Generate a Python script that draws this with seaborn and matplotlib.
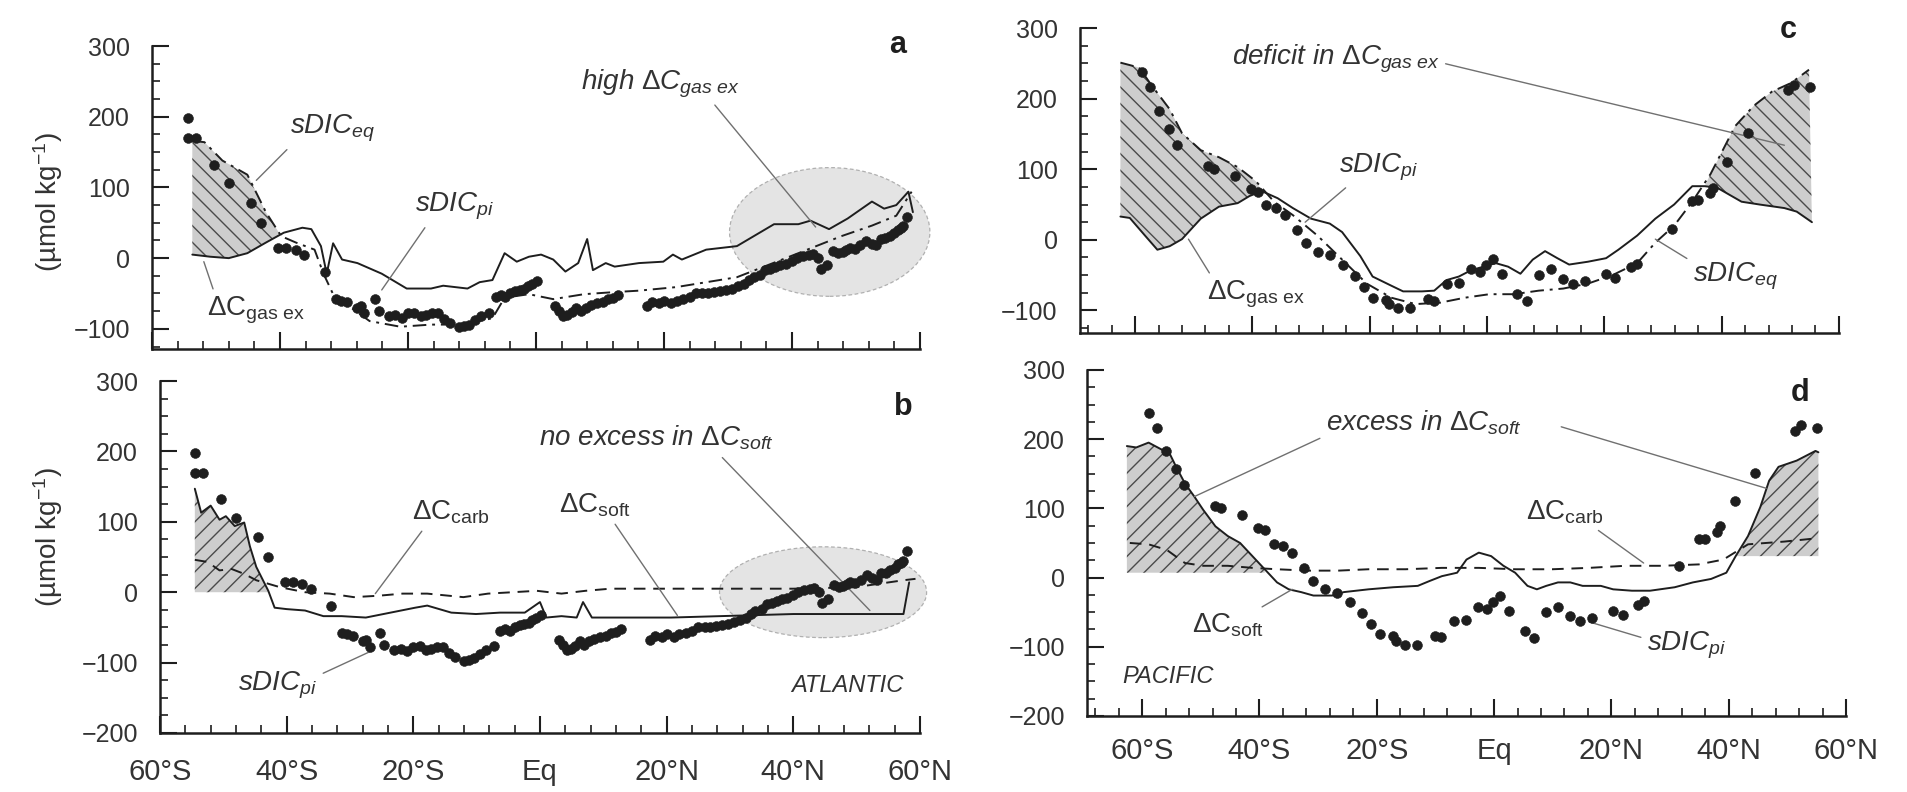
import numpy as np
import pandas as pd
import seaborn as sns
import matplotlib.pyplot as plt
from matplotlib.patches import Ellipse
from matplotlib.ticker import MultipleLocator, FixedLocator

# ---------------- Atlantic (panels a, b) ----------------
atl_dot_lat = [-54.4, -54.4, -53.2, -50.3, -48.0, -44.5, -43.0, -40.3, -39.0, -37.5,
               -36.2, -33.0, -31.2, -30.5, -29.6, -28.0, -27.4, -26.8, -25.2, -24.6,
               -23.0, -22.0, -21.0, -20.0, -19.0, -18.0, -17.2, -16.2, -15.3, -14.3,
               -13.4, -12.0, -11.2, -10.4, -9.5, -8.6, -7.3, -6.3, -5.5, -4.8,
               -4.0, -3.2, -2.5, -1.8, -1.2, -0.6, 0.2, 3.0, 3.6, 4.2,
               4.9, 5.6, 6.3, 7.0, 7.8, 8.6, 9.5, 10.4, 11.2, 12.0,
               12.8, 17.3, 18.2, 19.2, 20.0, 21.1, 22.0, 23.0, 24.0, 25.0,
               26.0, 26.9, 27.8, 28.8, 29.7, 30.7, 31.6, 32.5, 33.3, 34.0,
               35.0, 35.8, 36.6, 37.4, 38.2, 39.0, 40.0, 40.8, 41.7, 42.6,
               43.3, 44.0, 44.6, 45.5, 46.4, 47.2, 47.9, 48.5, 49.0, 49.8,
               50.7, 51.6, 52.5, 53.2, 53.9, 54.6, 55.3, 56.0, 56.5, 57.0,
               57.4, 58.0]
atl_sdic_pi = [198, 170, 170, 132, 106, 78, 50, 15, 15, 12,
               5, -20, -58, -60, -62, -70, -68, -78, -58, -75,
               -82, -80, -84, -78, -77, -82, -80, -78, -78, -86,
               -92, -98, -96, -94, -88, -82, -77, -55, -52, -55,
               -50, -47, -45, -44, -40, -36, -32, -68, -75, -82,
               -80, -76, -70, -75, -70, -66, -64, -62, -58, -56,
               -52, -68, -62, -64, -60, -63, -60, -58, -55, -50,
               -50, -49, -48, -47, -45, -43, -40, -36, -31, -27,
               -24, -17, -15, -12, -10, -8, -4, 0, 3, 4,
               6, 0, -16, -10, 10, 7, 9, 12, 15, 13,
               18, 24, 20, 18, 27, 28, 32, 35, 40, 42,
               45, 58]

atl_gasex_lat = [-53.7, -50.9, -48.0, -45.1, -42.2, -39.4, -36.5, -35.1, -33.6, -32.7,
                 -31.7, -30.3, -27.9, -24.1, -20.2, -16.4, -14.5, -10.7, -8.8, -6.8,
                 -4.9, -3.0, -1.1, 0.8, 2.7, 4.6, 6.6, 8.0, 8.9, 10.9,
                 12.3, 16.1, 19.9, 21.4, 22.8, 26.6, 31.4, 37.2, 41.0, 42.9,
                 45.8, 48.7, 52.5, 54.4, 56.3, 58.2, 58.9]
atl_gasex = [5, 2, 0, 7, 22, 36, 43, 41, 17, -22,
             21, -2, -7, -22, -43, -43, -39, -43, -34, -31,
             7, -5, 2, 5, -2, -19, -7, 27, -17, -7,
             -12, -7, -5, 5, -2, 12, 17, 48, 48, 53,
             41, 56, 80, 70, 75, 94, 65]

atl_eq_lat = [-53.7, -51.8, -49.0, -45.1, -42.2, -39.8, -37.5, -34.6, -33.2, -31.7,
              -28.9, -26.0, -21.2, -16.4, -11.6, -6.8, -4.9, -1.1, 2.7, 7.5,
              12.3, 16.1, 21.9, 31.4, 41.0, 47.7, 52.5, 56.3, 58.7]
atl_sdic_eq = [166, 164, 138, 118, 65, 31, 22, 12, -22, -51,
               -70, -89, -97, -94, -94, -85, -56, -51, -58, -51,
               -48, -46, -41, -27, 7, 31, 46, 60, 94]

atl_soft_lat = [-54.5, -53.5, -52.0, -50.6, -49.6, -48.2, -46.7, -45.8, -44.8, -42.9,
                -41.9, -40.0, -37.1, -34.2, -31.3, -27.5, -23.6, -19.7, -17.8, -15.9,
                -14.0, -10.1, -6.3, -2.4, 0.0, 1.0, 3.4, 5.8, 6.8, 8.2,
                20.7, 40.0, 57.4, 58.3]
atl_soft = [147, 113, 123, 103, 108, 94, 99, 65, 36, 2,
            -22, -24, -26, -34, -34, -36, -29, -22, -19, -24,
            -29, -31, -29, -29, -14, -36, -34, -36, -14, -36,
            -36, -31, -31, 14]

atl_carb_lat = [-54.5, -52.5, -50.6, -48.7, -46.7, -44.8, -42.9, -41.0, -37.1, -33.2,
                -29.4, -25.5, -21.7, -17.8, -12.1, -8.2, -4.3, -0.5, 3.4, 7.2,
                11.1, 20.7, 30.4, 40.0, 49.7, 57.4, 59.3]
atl_carb = [46, 43, 31, 33, 26, 17, 12, 7, 0, -2,
            -7, -5, -2, -2, -7, -2, 0, 2, -2, 2,
            5, 5, 5, 5, 7, 17, 19]

# ---------------- Pacific (panels c, d) ----------------
pac_dot_lat = [-58.9, -57.4, -55.9, -54.3, -52.8, -47.6, -46.5, -42.9, -40.2, -39.1,
               -37.6, -36.0, -34.5, -32.4, -30.9, -28.8, -26.7, -24.6, -22.5, -20.9,
               -19.4, -17.3, -16.7, -15.2, -13.1, -10.0, -9.0, -6.9, -4.8, -2.7,
               -1.2, -0.1, 1.0, 2.6, 5.2, 6.8, 8.9, 10.9, 13.0, 14.6,
               16.7, 20.3, 21.9, 24.5, 25.5, 31.5, 35.0, 36.0, 38.0, 38.6,
               41.0, 44.5, 51.3, 52.4, 55.0]
pac_sdic_pi = [238, 216, 183, 157, 134, 104, 100, 91, 72, 68,
               49, 45, 35, 14, -5, -17, -22, -35, -51, -67,
               -82, -85, -91, -97, -97, -84, -86, -63, -61, -42,
               -45, -35, -27, -49, -77, -87, -50, -42, -56, -63,
               -58, -48, -54, -39, -34, 16, 55, 56, 66, 74,
               110, 151, 212, 220, 216]

pac_gasex_lat = [-62.5, -60.9, -58.3, -56.2, -54.1, -52.0, -48.8, -45.7, -42.5, -40.5,
                 -38.4, -35.7, -33.1, -30.0, -26.8, -24.7, -21.6, -19.5, -16.3, -14.3,
                 -11.1, -9.0, -6.9, -4.8, -2.7, -0.6, 1.5, 3.6, 5.7, 7.8,
                 9.9, 12.0, 14.0, 17.2, 20.3, 22.4, 25.6, 28.7, 31.9, 35.0,
                 37.1, 39.2, 41.3, 43.4, 46.5, 50.7, 52.8, 55.4]
pac_gasex = [33, 31, 6, -14, -9, 1, 30, 47, 52, 62,
             69, 59, 45, 30, 23, 11, -23, -52, -65, -73,
             -73, -72, -57, -52, -43, -38, -33, -38, -48, -28,
             -16, -26, -35, -31, -26, -14, 6, 30, 50, 76,
             76, 74, 64, 54, 50, 45, 40, 25]

pac_eq_lat = [-62.5, -59.3, -57.2, -54.1, -52.0, -48.8, -45.7, -42.5, -39.4, -36.3,
              -33.1, -28.9, -24.7, -20.5, -16.3, -12.2, -8.0, -3.8, 0.4, 4.6,
              8.8, 13.0, 17.2, 21.4, 25.6, 28.7, 31.9, 35.0, 38.1, 40.2,
              42.3, 45.5, 48.6, 51.8, 54.9]
pac_sdic_eq = [251, 244, 219, 185, 151, 127, 117, 103, 83, 54,
               35, 6, -28, -62, -82, -91, -89, -82, -77, -77,
               -72, -69, -62, -50, -33, -4, 20, 54, 93, 127,
               161, 190, 210, 222, 241]

pac_soft_lat = [-62.6, -61.0, -58.9, -56.9, -55.3, -54.2, -52.7, -51.1, -49.6, -47.5,
                -45.4, -43.3, -41.2, -39.1, -37.0, -35.0, -32.9, -30.8, -27.6, -25.6,
                -21.4, -17.2, -13.0, -11.0, -8.9, -6.3, -4.7, -2.6, -0.5, 1.6,
                3.6, 5.7, 7.3, 8.9, 10.9, 13.0, 15.1, 18.2, 20.3, 23.5,
                26.6, 30.8, 33.9, 37.0, 39.6, 41.2, 43.3, 45.4, 46.9, 48.5,
                51.6, 54.8, 55.3]
pac_soft = [190, 188, 195, 186, 179, 160, 136, 117, 98, 74,
            60, 50, 31, 12, -7, -17, -21, -26, -26, -21,
            -17, -14, -12, -5, 2, 7, 26, 36, 31, 17,
            7, -12, -17, -12, -7, -7, -12, -12, -17, -19,
            -19, -14, -7, -2, 7, 31, 60, 102, 140, 160,
            169, 183, 181]

pac_carb_lat = [-62.1, -58.9, -55.8, -52.7, -49.6, -45.4, -41.2, -37.0, -31.8, -26.6,
                -21.4, -15.1, -8.9, -2.6, 3.6, 9.9, 16.2, 22.4, 28.7, 34.9,
                39.1, 43.3, 49.5, 55.3]
pac_carb = [50, 48, 40, 21, 17, 17, 14, 12, 10, 10,
            12, 12, 14, 14, 12, 12, 14, 17, 17, 19,
            26, 48, 52, 57]

# baselines of the "excess in dC_soft" shading in panel d
pac_soft_base_s = 7
pac_soft_base_n = 31

lat_ticks = [-60, -40, -20, 0, 20, 40, 60]
lat_labels = ["60°S", "40°S", "20°S", "Eq", "20°N", "40°N", "60°N"]

# ---------------- Style ----------------
sns.set_style("ticks")
plt.rcParams["font.family"] = ["Liberation Sans", "DejaVu Sans"]
plt.rcParams["mathtext.fontset"] = "custom"
plt.rcParams["mathtext.rm"] = "Liberation Sans"
plt.rcParams["mathtext.it"] = "Liberation Sans:italic"
plt.rcParams["mathtext.bf"] = "Liberation Sans:bold"
plt.rcParams["hatch.linewidth"] = 1.0

INK = "#1e1e1e"
TXT = "#333333"
LEAD = "#707070"
HATCH_FACE = "#cdcdcd"
HATCH_EDGE = "#4a4a4a"
ANN = 20

fig = plt.figure(figsize=(19.07, 7.92), dpi=100, facecolor="white")
ax_a = fig.add_axes([0.0797, 0.5598, 0.4027, 0.3821])
ax_b = fig.add_axes([0.0839, 0.0745, 0.3985, 0.4444])
ax_c = fig.add_axes([0.5663, 0.5795, 0.3980, 0.3851])
ax_d = fig.add_axes([0.5700, 0.0960, 0.3980, 0.4369])


def style_axes(ax, xlim, ylim, labels, pad_x):
    ax.set_xlim(*xlim)
    ax.set_ylim(*ylim)
    for side in ["top", "right"]:
        ax.spines[side].set_visible(False)
    for side in ["left", "bottom"]:
        ax.spines[side].set_linewidth(1.8)
        ax.spines[side].set_color(INK)
    ax.xaxis.set_major_locator(FixedLocator(lat_ticks))
    ax.xaxis.set_minor_locator(MultipleLocator(4))
    ax.yaxis.set_major_locator(MultipleLocator(100))
    ax.yaxis.set_minor_locator(MultipleLocator(25))
    ax.tick_params(axis="both", which="major", direction="in", length=12, width=1.5, color=INK)
    ax.tick_params(axis="both", which="minor", direction="in", length=6, width=1.2, color=INK)
    ax.tick_params(axis="y", which="major", labelsize=18, labelcolor=TXT, pad=16)
    ax.tick_params(axis="x", which="major", labelsize=21, labelcolor=TXT, pad=pad_x)
    ax.set_xticks(lat_ticks)
    if labels:
        ax.set_xticklabels(lat_labels)
    else:
        ax.tick_params(axis="x", labelbottom=False)
    ax.set_xlabel("")
    ax.set_ylabel("")


def dots(ax, x, y):
    sns.scatterplot(x=x, y=y, ax=ax, s=50, color=INK, edgecolor=INK,
                    linewidth=0.4, zorder=4, legend=False)


def line(ax, x, y, kind):
    sns.lineplot(x=x, y=y, ax=ax, color=INK, lw=1.4, estimator=None,
                 sort=False, zorder=3, legend=False)
    ln = ax.lines[-1]
    if kind == "dashdot":
        ln.set_dashes([7, 3, 1.5, 3])
    elif kind == "dash":
        ln.set_dashes([6, 4])


def leader(ax, text, xy, xytext, relpos=(0.5, 0.5), **kw):
    ax.annotate(text, xy=xy, xytext=xytext, textcoords="data", ha="center", va="center",
                fontsize=ANN, color=TXT,
                arrowprops=dict(arrowstyle="-", color=LEAD, lw=1.0, relpos=relpos,
                                shrinkA=2, shrinkB=0), **kw)


def hatch_poly(ax, x_lo, y_lo, x_hi, y_hi, pattern):
    px = np.concatenate([np.asarray(x_lo), np.asarray(x_hi)[::-1]])
    py = np.concatenate([np.asarray(y_lo), np.asarray(y_hi)[::-1]])
    ax.fill(px, py, facecolor=HATCH_FACE, edgecolor=HATCH_EDGE, hatch=pattern,
            linewidth=0, zorder=1)


def blob(ax, center, w, h):
    ax.add_patch(Ellipse(center, w, h, facecolor="#e4e4e4", edgecolor="#b0b0b0",
                         lw=0.9, ls=(0, (3, 2)), zorder=0, clip_on=False))


GAS = r"$\Delta\mathrm{C}_{\mathrm{gas\ ex}}$"
CARB = r"$\Delta\mathrm{C}_{\mathrm{carb}}$"
SOFT = r"$\Delta\mathrm{C}_{\mathrm{soft}}$"

# ---------------- Panel a ----------------
ax = ax_a
blob(ax, (45.9, 37), 31.3, 182)
gl = np.array(atl_gasex_lat); gv = np.array(atl_gasex)
el = np.array(atl_eq_lat); ev = np.array(atl_sdic_eq)
hatch_poly(ax, gl[gl <= -39], gv[gl <= -39], el[el <= -39], ev[el <= -39], "\\\\")
line(ax, atl_gasex_lat, atl_gasex, "solid")
line(ax, atl_eq_lat, atl_sdic_eq, "dashdot")
dots(ax, atl_dot_lat, atl_sdic_pi)
style_axes(ax, (-60, 60), (-128, 300), False, 18)
leader(ax, r"$sDIC_{eq}$", (-43.7, 110), (-31.8, 183), relpos=(0.1, 0.2))
leader(ax, r"$sDIC_{pi}$", (-24.1, -45), (-12.7, 73), relpos=(0.2, 0.1))
leader(ax, GAS, (-51.9, -5), (-43.7, -74), relpos=(0.1, 0.8))
leader(ax, r"$high\ \Delta C_{gas\ ex}$", (43.7, 44), (19.4, 247), relpos=(0.8, 0.1))
ax.text(0.971, 1.003, "a", transform=ax.transAxes, fontsize=22, fontweight="bold",
        color=INK, ha="center", va="center")

# ---------------- Panel b ----------------
ax = ax_b
blob(ax, (44.7, 0), 32.7, 129)
sl = np.array(atl_soft_lat); sv = np.array(atl_soft)
ax.fill_between(sl[sl <= -42.9], 0, sv[sl <= -42.9], facecolor=HATCH_FACE,
                edgecolor=HATCH_EDGE, hatch="//", linewidth=0, zorder=1)
line(ax, atl_soft_lat, atl_soft, "solid")
line(ax, atl_carb_lat, atl_carb, "dash")
dots(ax, atl_dot_lat, atl_sdic_pi)
style_axes(ax, (-60, 60), (-200, 300), True, 18)
leader(ax, r"$no\ excess\ in\ \Delta C_{soft}$", (52.1, -26), (18.3, 219), relpos=(0.75, 0.1))
leader(ax, CARB, (-26.0, -2), (-14.0, 114), relpos=(0.2, 0.1))
leader(ax, SOFT, (21.7, -33), (8.7, 124), relpos=(0.7, 0.1))
leader(ax, r"$sDIC_{pi}$", (-26.5, -83), (-41.4, -133), relpos=(0.9, 0.7))
ax.text(0.905, 0.136, "ATLANTIC", transform=ax.transAxes, fontsize=17, style="italic",
        color=TXT, ha="center", va="center")
ax.text(0.978, 0.926, "b", transform=ax.transAxes, fontsize=22, fontweight="bold",
        color=INK, ha="center", va="center")
fig.text(48 / 1907, 1 - 202 / 792, "(µmol kg$^{-1}$)", rotation=90, fontsize=20,
         color=TXT, ha="center", va="center")
fig.text(48 / 1907, 1 - 537 / 792, "(µmol kg$^{-1}$)", rotation=90, fontsize=20,
         color=TXT, ha="center", va="center")

# ---------------- Panel c ----------------
ax = ax_c
gl = np.array(pac_gasex_lat); gv = np.array(pac_gasex)
el = np.array(pac_eq_lat); ev = np.array(pac_sdic_eq)
hatch_poly(ax, gl[gl <= -38], gv[gl <= -38], el[el <= -38], ev[el <= -38], "\\\\")
hatch_poly(ax, gl[gl >= 37], gv[gl >= 37], el[el >= 37], ev[el >= 37], "\\\\")
line(ax, pac_gasex_lat, pac_gasex, "solid")
line(ax, pac_eq_lat, pac_sdic_eq, "dashdot")
dots(ax, pac_dot_lat, pac_sdic_pi)
style_axes(ax, (-69.4, 60), (-132, 300), False, 15)
leader(ax, r"$deficit\ in\ \Delta C_{gas\ ex}$", (50.7, 134), (-25.8, 256), relpos=(1.0, 0.4))
leader(ax, r"$sDIC_{pi}$", (-31.0, 25), (-18.4, 103), relpos=(0.2, 0.1))
leader(ax, GAS, (-50.9, 1), (-39.4, -77), relpos=(0.1, 0.8))
leader(ax, r"$sDIC_{eq}$", (28.7, 1), (42.3, -52), relpos=(0.1, 0.8))
ax.text(0.933, 0.993, "c", transform=ax.transAxes, fontsize=22, fontweight="bold",
        color=INK, ha="center", va="center")

# ---------------- Panel d ----------------
ax = ax_d
sl = np.array(pac_soft_lat); sv = np.array(pac_soft)
ax.fill_between(sl[sl <= -39.1], pac_soft_base_s, sv[sl <= -39.1], facecolor=HATCH_FACE,
                edgecolor=HATCH_EDGE, hatch="//", linewidth=0, zorder=1)
ax.fill_between(sl[sl >= 41.2], pac_soft_base_n, sv[sl >= 41.2], facecolor=HATCH_FACE,
                edgecolor=HATCH_EDGE, hatch="//", linewidth=0, zorder=1)
line(ax, pac_soft_lat, pac_soft, "solid")
line(ax, pac_carb_lat, pac_carb, "dash")
dots(ax, pac_dot_lat, pac_sdic_pi)
style_axes(ax, (-69.4, 60), (-200, 300), True, 15)
leader(ax, r"$excess\ in\ \Delta C_{soft}$", (-51.1, 117), (-12.0, 224), relpos=(0.05, 0.2))
leader(ax, "", (46.4, 129), (11.0, 219))
leader(ax, CARB, (25.5, 21), (12.0, 95), relpos=(0.8, 0.1))
leader(ax, SOFT, (-34.4, -17), (-45.4, -69), relpos=(0.8, 0.9))
leader(ax, r"$sDIC_{pi}$", (16.2, -64), (32.8, -98), relpos=(0.0, 0.7))
ax.text(0.107, 0.113, "PACIFIC", transform=ax.transAxes, fontsize=17, style="italic",
        color=TXT, ha="center", va="center")
ax.text(0.939, 0.934, "d", transform=ax.transAxes, fontsize=22, fontweight="bold",
        color=INK, ha="center", va="center")

fig.savefig("out.png", dpi=100, facecolor="white")
